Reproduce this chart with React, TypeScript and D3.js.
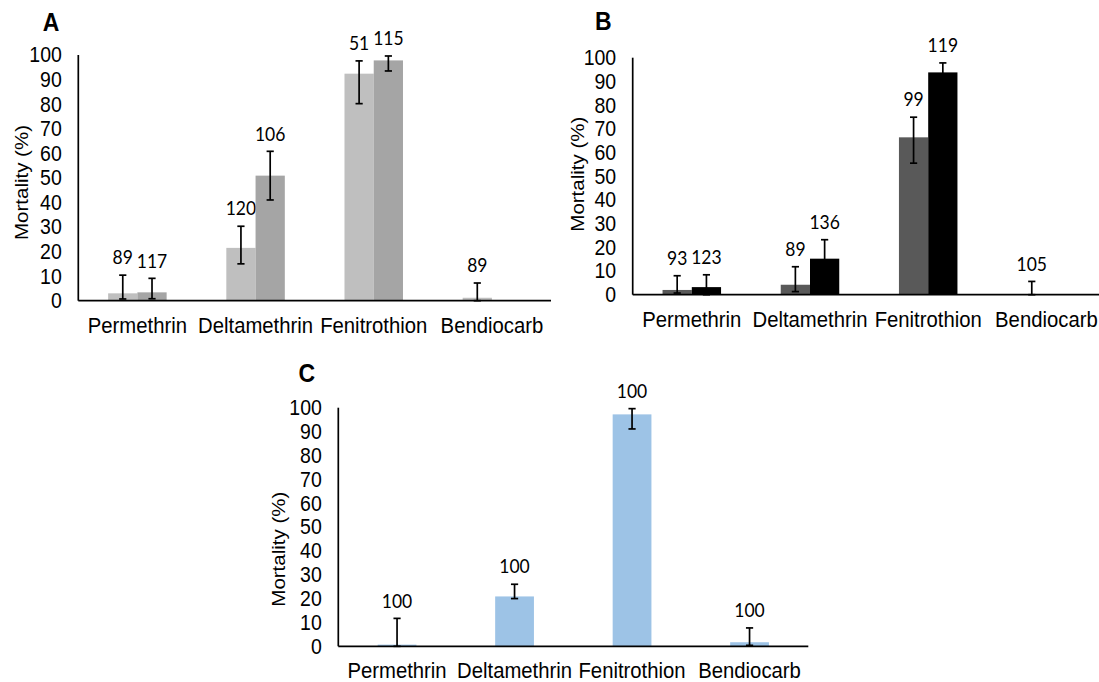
import * as d3 from "d3";

const categories = ["Permethrin", "Deltamethrin", "Fenitrothion", "Bendiocarb"];
const yTicks = [0, 10, 20, 30, 40, 50, 60, 70, 80, 90, 100];

// panel A: two light grey series
const aMean1 = [3.0, 21.5, 92.4, 1.2];
const aLow1 = [0.7, 15.0, 80.2, 0];
const aHigh1 = [10.4, 30.3, 97.6, 7.2];
const aN1 = [89, 120, 51, 89];
const aMean2 = [3.4, 50.9, 97.8, null];
const aLow2 = [0.8, 41.0, 93.5, null];
const aHigh2 = [9.1, 60.8, 99.6, null];
const aN2 = [117, 106, 115, null];

// panel B: dark grey and black
const bMean1 = [2.0, 4.2, 66.4, 0];
const bLow1 = [0.7, 1.3, 55.5, 0];
const bHigh1 = [8.0, 11.8, 74.9, 5.6];
const bN1 = [93, 89, 99, 105];
const bMean2 = [3.2, 15.2, 93.8, null];
const bLow2 = [0, 7.2, 89.8, null];
const bHigh2 = [8.4, 23.2, 97.8, null];
const bN2 = [123, 136, 119, null];

// panel C: one blue series
const cMean = [0.7, 20.9, 97.2, 1.7];
const cLow = [0, 20.0, 91.1, 0.4];
const cHigh = [11.7, 26.0, 99.6, 7.7];
const cN = [100, 100, 100, 100];

const SY = 1.09; // the source image is a bit stretched vertically
const AXIS_FONT = "'Liberation Sans', Arial, sans-serif";
const LABEL_FONT = "Lato, 'Noto Sans', sans-serif";

const panels = [
  {
    letter: "A", x0: 78.3, x1: 551, y0: 300.7, y100: 55, pad: 0.505,
    letterX: 42.7, letterY: 31, titleX: 28, titleY: 182.5,
    series: [
      { mean: aMean1, low: aLow1, high: aHigh1, n: aN1, color: "#BFBFBF" },
      { mean: aMean2, low: aLow2, high: aHigh2, n: aN2, color: "#A5A5A5" },
    ],
  },
  {
    letter: "B", x0: 632.7, x1: 1105.5, y0: 294.7, y100: 57.7, pad: 0.505,
    letterX: 595, letterY: 30, titleX: 584, titleY: 174.2,
    series: [
      { mean: bMean1, low: bLow1, high: bHigh1, n: bN1, color: "#595959" },
      { mean: bMean2, low: bLow2, high: bHigh2, n: bN2, color: "#000000" },
    ],
  },
  {
    letter: "C", x0: 338.3, x1: 808.3, y0: 646.3, y100: 407.7, pad: 0.67,
    letterX: 298.5, letterY: 381.7, titleX: 285, titleY: 549.2,
    series: [{ mean: cMean, low: cLow, high: cHigh, n: cN, color: "#9DC3E6" }],
  },
];

function Panel({ p }) {
  const x = d3.scaleBand().domain(categories).range([p.x0, p.x1])
    .paddingInner(p.pad).paddingOuter(p.pad / 2);
  const xs = d3.scaleBand().domain(d3.range(p.series.length)).range([0, x.bandwidth()]);
  const y = d3.scaleLinear().domain([0, 100]).range([p.y0, p.y100]);

  return (
    <g>
      <text transform={`translate(${p.letterX},${p.letterY}) scale(1,${SY})`}
        fontFamily={AXIS_FONT} fontWeight="bold" fontSize={23}>{p.letter}</text>

      {p.series.map((s, si) =>
        categories.map((c, ci) => {
          if (s.mean[ci] == null) return null;
          const bx = x(c) + xs(si);
          const cx = bx + xs.bandwidth() / 2;
          const top = y(s.high[ci]);
          return (
            <g key={`${si}-${ci}`}>
              <rect x={bx} width={xs.bandwidth()} y={y(s.mean[ci])}
                height={y(0) - y(s.mean[ci])} fill={s.color} />
              <g stroke="#000" strokeWidth={1.7}>
                <line x1={cx} x2={cx} y1={top} y2={y(s.low[ci])} />
                <line x1={cx - 3.6} x2={cx + 3.6} y1={top} y2={top} />
                <line x1={cx - 3.6} x2={cx + 3.6} y1={y(s.low[ci])} y2={y(s.low[ci])} />
              </g>
              <text transform={`translate(${cx},${top - 17.5}) scale(1,${SY})`} dy="0.35em"
                textAnchor="middle" fontFamily={LABEL_FONT} fontSize={17.5}>{s.n[ci]}</text>
            </g>
          );
        })
      )}

      <line x1={p.x0} x2={p.x0} y1={y(100)} y2={y(0)} stroke="#000" strokeWidth={1.7} />
      <line x1={p.x0} x2={p.x1} y1={y(0)} y2={y(0)} stroke="#000" strokeWidth={1.7} />

      {yTicks.map((t) => (
        <text key={t} transform={`translate(${p.x0 - 16.5},${y(t)}) scale(1,${SY})`} dy="0.35em"
          textAnchor="end" fontFamily={AXIS_FONT} fontSize={19.5}>{t}</text>
      ))}

      {categories.map((c) => (
        <text key={c} transform={`translate(${x(c) + x.bandwidth() / 2},${p.y0 + 32}) scale(1,${SY})`}
          textAnchor="middle" fontFamily={AXIS_FONT} fontSize={20.3}>{c}</text>
      ))}

      <text transform={`translate(${p.titleX},${p.titleY}) rotate(-90) scale(${SY},1)`}
        textAnchor="middle" fontFamily={AXIS_FONT} fontSize={18.8}>Mortality (%)</text>
    </g>
  );
}

export default function App() {
  return (
    <svg width={1099} height={682} style={{ position: "absolute", left: 0, top: 0, background: "#fff" }}>
      {panels.map((p) => <Panel key={p.letter} p={p} />)}
    </svg>
  );
}
